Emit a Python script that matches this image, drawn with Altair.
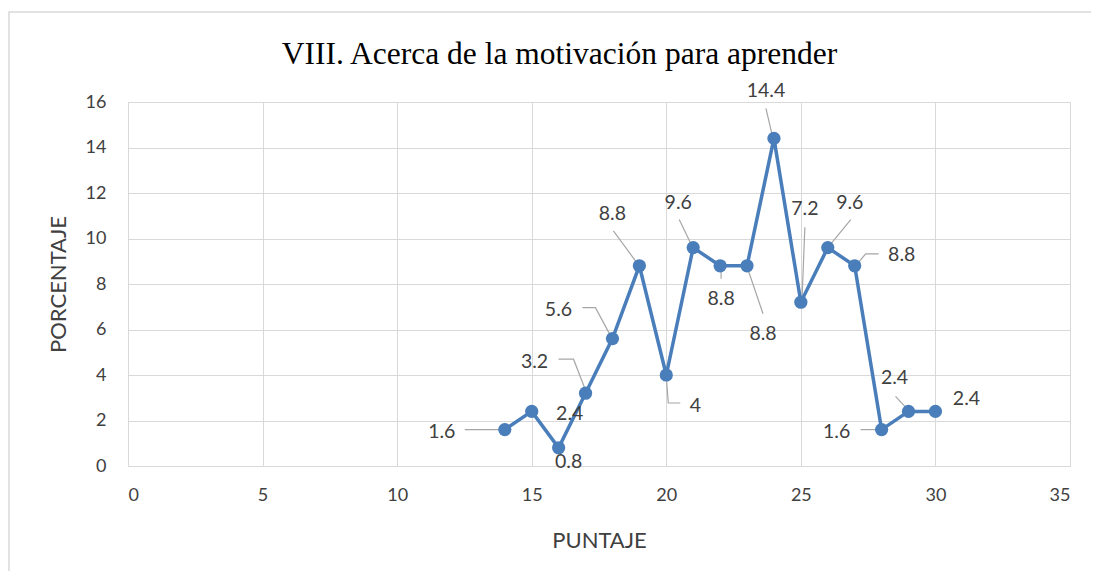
import altair as alt
import pandas as pd

# ---- data ----
puntaje = [14, 15, 16, 17, 18, 19, 20, 21, 22, 23, 24, 25, 26, 27, 28, 29, 30]
porcentaje = [1.6, 2.4, 0.8, 3.2, 5.6, 8.8, 4, 9.6, 8.8, 8.8, 14.4, 7.2, 9.6, 8.8, 1.6, 2.4, 2.4]
etiquetas = ["1.6", "2.4", "0.8", "3.2", "5.6", "8.8", "4", "9.6", "8.8", "8.8",
             "14.4", "7.2", "9.6", "8.8", "1.6", "2.4", "2.4"]
titulo = ["VIII. Acerca de la motivación para aprender"]

# label placement (pixel offsets from each point)
label_dx = [-63, 38, 10, -51, -54, -27, 29, -15, 1, 16, -8, 4, 22, 47, -45, -14, 31]
label_dy = [2, 3, 14, -31, -29, -52, 31, -45, 33, 68, -47, -93, -45, -11, 2, -33, -12]

# leader line vertices (pixel offsets from each point)
leaders = {
    14: [(-40, 0), (-5, 0)],
    17: [(-27, -34), (-12, -34), (0, -3)],
    18: [(-30, -31), (-17, -31), (-2, -3)],
    19: [(-26, -35), (-1, -1)],
    20: [(0, 2), (2, 28), (14, 28)],
    21: [(-14, -28), (-1, -1)],
    22: [(1, 4), (1, 13)],
    23: [(0, 1), (16, 48)],
    24: [(-8, -30), (-1, 0)],
    25: [(4, -75), (1, 1)],
    26: [(23, -28), (0, 0)],
    27: [(0, 1), (11, -12), (24, -12)],
    28: [(-21, 0), (-2, 0)],
    29: [(-13, -15), (0, -1)],
}

x_ticks = [0, 5, 10, 15, 20, 25, 30, 35]
y_ticks = [0, 2, 4, 6, 8, 10, 12, 14, 16]

W, H = 942, 364
XMAX, YMAX = 35, 16
kx = XMAX / W
ky = YMAX / H

df = pd.DataFrame({"PUNTAJE": puntaje, "PORCENTAJE": porcentaje})
lab = pd.DataFrame({
    "lx": [x + dx * kx for x, dx in zip(puntaje, label_dx)],
    "ly": [y - dy * ky for y, dy in zip(porcentaje, label_dy)],
    "t": etiquetas,
})
rows = []
for x, y in zip(puntaje, porcentaje):
    if x in leaders:
        for i, (ox, oy) in enumerate(leaders[x]):
            rows.append({"id": x, "o": i, "lx": x + ox * kx, "ly": y - oy * ky})
lead = pd.DataFrame(rows)

FONT = "Lato"
xs = alt.Scale(domain=[0, XMAX], nice=False, zero=False)
ys = alt.Scale(domain=[0, YMAX], nice=False)

xaxis = alt.Axis(values=x_ticks, grid=True, gridColor="#d9d9d9", domainColor="#d9d9d9",
                 ticks=False, labelFont=FONT, labelFontSize=18, labelColor="#404040",
                 labelPadding=20, title="PUNTAJE", titleFont=FONT, titleFontSize=22,
                 titleFontWeight="normal", titleColor="#404040", titleX=471, titleY=74,
                 titleBaseline="middle", titleAlign="center")
yaxis = alt.Axis(values=y_ticks, grid=True, gridColor="#d9d9d9", domain=False,
                 ticks=False, labelFont=FONT, labelFontSize=18, labelColor="#404040",
                 labelPadding=22, title="PORCENTAJE", titleFont=FONT, titleFontSize=22,
                 titleFontWeight="normal", titleColor="#404040", titleX=-70, titleY=182,
                 titleBaseline="middle", titleAlign="center", titleAngle=270)

border = alt.Chart(pd.DataFrame({"a": [0]})).mark_rect(
    filled=False, stroke="#d9d9d9", strokeWidth=1.5
).encode(x=alt.value(-119), y=alt.value(-90), x2=alt.value(1100), y2=alt.value(700))

title = alt.Chart(pd.DataFrame({"t": titulo})).mark_text(
    font="Liberation Serif", fontSize=31.5, color="#000000", align="center",
    baseline="alphabetic"
).encode(x=alt.value(431.5), y=alt.value(-38.5), text="t:N")

base = alt.Chart(df).encode(
    x=alt.X("PUNTAJE:Q", scale=xs, axis=xaxis),
    y=alt.Y("PORCENTAJE:Q", scale=ys, axis=yaxis),
)
line = base.mark_line(color="#4a7ebb", strokeWidth=3.5)
pts = base.mark_circle(color="#4a7ebb", size=175, opacity=1)

lead_layer = alt.Chart(lead).mark_line(color="#a6a6a6", strokeWidth=1.2).encode(
    x=alt.X("lx:Q", scale=xs), y=alt.Y("ly:Q", scale=ys),
    detail="id:N", order="o:Q",
)
text = alt.Chart(lab).mark_text(font=FONT, fontSize=19.5, color="#404040",
                                align="center", baseline="middle").encode(
    x=alt.X("lx:Q", scale=xs), y=alt.Y("ly:Q", scale=ys), text="t:N"
)

chart = alt.layer(border, title, lead_layer, line, pts, text).properties(
    width=W, height=H,
    autosize=alt.AutoSizeParams(type="none"),
    padding={"left": 120, "top": 94, "right": 21, "bottom": 105},
).configure_view(stroke=None).configure(background="white")

chart.save("out.html", embed_options={"renderer": "svg", "actions": False})
